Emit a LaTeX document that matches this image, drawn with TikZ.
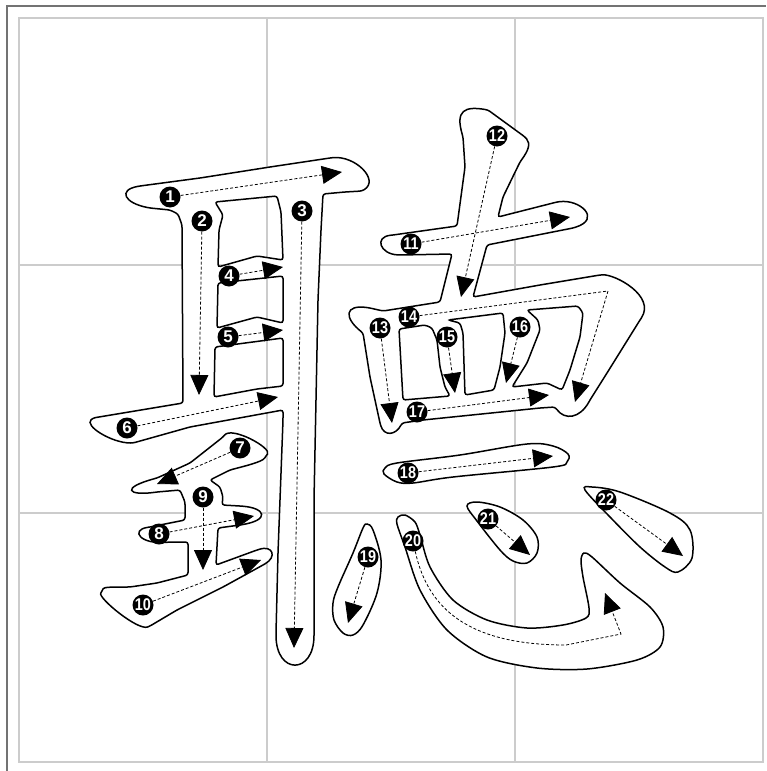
\documentclass[tikz,border=0pt]{standalone}
\usepackage{fontspec}
\newfontfamily\numfont{Liberation Sans}
\newcommand{\twodig}[1]{\scalebox{0.85}[1]{#1}}
\usetikzlibrary{arrows.meta}

\begin{document}
\begin{tikzpicture}[x=1pt, y=-1pt, >={Triangle[length=20pt,width=18pt]},
  gridline/.style={draw=black!20, line width=1.2pt},
  frameline/.style={draw=black!55, line width=2pt},
  outline/.style={draw=black, line width=1.5pt, fill=white, even odd rule, rounded corners=2.5pt},
  softline/.style={draw=black, line width=1.5pt, fill=white},
  guide/.style={->, dash pattern=on 3pt off 2pt, line width=0.8pt},
  num/.style={circle, fill=black, text=white, inner sep=0pt, minimum size=21pt,
    font=\numfont\bfseries\fontsize{17}{17}\selectfont}]
  \useasboundingbox (0,0) rectangle (766,771);

  \draw[frameline] (7,771) -- (7,6) -- (766,6);
  \draw[gridline] (19,18) rectangle (763,762);
  \draw[gridline] (267,18) -- (267,762) (515,18) -- (515,762);
  \draw[gridline] (19,265) -- (763,265) (19,513) -- (763,513);

  \path[outline] (200,178) -- (270,167) -- (330,158)
    .. controls (355,155) and (380,180) .. (362,191) -- (345,192) -- (323,194)
    -- (321,230) -- (318,300) -- (316,400) -- (314,500) -- (314,633)
    .. controls (314,675) and (276,675) .. (276,633) -- (278,553) -- (283,420) -- (283,410)
    -- (190,427) -- (133,443) .. controls (112,443) and (84,426) .. (93,418)
    -- (183,403) -- (182,225) -- (178,214) -- (170,210) -- (150,208)
    .. controls (124,203) and (118,190) .. (140,186) -- cycle
    (215,202) -- (277,196) -- (281,212) -- (283,260) -- (257,256) -- (218,267) -- (219,230) -- (223,215) -- cycle
    (218,283) -- (283,276) -- (283,323) -- (257,317) -- (217,328) -- cycle
    (215,347) -- (283,338) -- (283,386) -- (257,389) -- (214,397) -- cycle;

  \path[outline] (223,437) .. controls (232,426) and (272,448) .. (266,456)
    .. controls (262,462) and (245,466) .. (230,470) -- (210,480)
    -- (220,487) -- (223,497) -- (222,505) -- (240,506)
    .. controls (266,508) and (270,520) .. (240,525) -- (218,528)
    -- (216,565) -- (257,550) .. controls (273,545) and (277,557) .. (263,565)
    -- (223,587) -- (177,610) -- (150,626) .. controls (138,631) and (98,598) .. (102,591)
    .. controls (104,587) and (112,587) .. (130,587) -- (157,583) -- (188,575) -- (188,542)
    -- (170,542) .. controls (140,545) and (130,530) .. (150,527) -- (185,520) -- (185,502)
    -- (180,490) -- (157,492) .. controls (128,496) and (120,488) .. (157,478)
    -- (190,463) -- cycle;

  \path[outline] (463,137) .. controls (455,110) and (465,106) .. (488,110) -- (525,137)
    .. controls (531,144) and (528,151) .. (520,162) -- (503,197) -- (498,217)
    -- (557,202) .. controls (580,199) and (602,219) .. (573,228) -- (487,245)
    -- (473,297) -- (540,285) -- (600,275) .. controls (615,274) and (656,296) .. (640,320)
    -- (607,373) -- (590,400) .. controls (580,418) and (565,421) .. (555,407)
    -- (540,408) -- (423,420) -- (402,423) .. controls (396,435) and (384,437) .. (380,423)
    -- (370,377) -- (363,333) .. controls (344,318) and (344,304) .. (370,308)
    -- (383,311) -- (440,302) -- (452,254) -- (400,255)
    .. controls (380,254) and (374,237) .. (393,235) -- (457,226) -- (465,167) -- cycle
    (399,329) -- (425,325) -- (432,328) -- (437,340) -- (440,367) -- (445,387) -- (450,396) -- (403,400) -- cycle
    (448,320) -- (503,313) -- (505,333) -- (500,367) -- (494,390) -- (465,395) -- (463,333) -- (460,323) -- cycle
    (527,310) -- (578,306) -- (583,313) -- (580,337) -- (570,370) -- (562,390) -- (547,383)
    -- (512,387) -- (527,363) -- (540,330) -- (538,320) -- cycle;

  \path[softline] plot[smooth cycle, tension=0.55] coordinates {(385,468) (397,463) (460,455)
    (527,444) (553,446) (568,454) (567,462) (553,467) (453,477) (413,483) (397,482) (384,474)};
  \path[softline] plot[smooth cycle, tension=0.55] coordinates {(367,524) (373,530) (381,560)
    (377,593) (363,625) (353,635) (343,633) (334,620) (333,603) (338,587) (353,553) (363,528)};
  \path[softline] plot[smooth cycle, tension=0.5] coordinates {(398,517) (405,515) (415,522)
    (420,535) (430,567) (453,600) (487,620) (527,628) (563,625) (586,618) (589,608) (583,577)
    (581,560) (584,553) (592,557) (620,583) (650,607) (663,627) (660,647) (637,660) (587,669)
    (537,668) (487,657) (447,630) (420,590) (405,547) (397,524)};
  \path[softline] plot[smooth cycle, tension=0.55] coordinates {(467,506) (477,502) (500,507)
    (523,520) (537,537) (537,553) (527,563) (513,561) (500,550) (477,521)};
  \path[softline] plot[smooth cycle, tension=0.55] coordinates {(585,490) (592,487) (620,492)
    (670,513) (690,530) (692,558) (678,572) (665,567) (640,547) (610,517)};

  \node[num] (n1) at (170,197) {1};
  \node[num] (n2) at (202,221) {2};
  \node[num] (n3) at (302,211) {3};
  \node[num] (n4) at (229,276) {4};
  \node[num] (n5) at (228,337) {5};
  \node[num] (n6) at (127,428) {6};
  \node[num] (n7) at (240,448) {7};
  \node[num] (n8) at (159,534) {8};
  \node[num] (n9) at (203,497) {9};
  \node[num] (n10) at (143,605) {\twodig{10}};
  \node[num] (n11) at (411,244) {\twodig{11}};
  \node[num] (n12) at (497,136) {\twodig{12}};
  \node[num] (n13) at (380,328) {\twodig{13}};
  \node[num] (n14) at (409,317) {\twodig{14}};
  \node[num] (n15) at (447,337) {\twodig{15}};
  \node[num] (n16) at (520,327) {\twodig{16}};
  \node[num] (n17) at (417,412) {\twodig{17}};
  \node[num] (n18) at (408,473) {\twodig{18}};
  \node[num] (n19) at (368,557) {\twodig{19}};
  \node[num] (n20) at (413,541) {\twodig{20}};
  \node[num] (n21) at (488,519) {\twodig{21}};
  \node[num] (n22) at (606,500) {\twodig{22}};

  \coordinate (e1) at (342,172);
  \coordinate (e2) at (199,395);
  \coordinate (e3) at (294,648);
  \coordinate (e4) at (283,267);
  \coordinate (e5) at (283,330);
  \coordinate (e6) at (278,397);
  \coordinate (e7) at (157,484);
  \coordinate (e8) at (254,516);
  \coordinate (e9) at (203,570);
  \coordinate (e10) at (261,560);
  \coordinate (e11) at (570,217);
  \coordinate (e12) at (461,297);
  \coordinate (e13) at (392,423);
  \coordinate (c14) at (608,291);
  \coordinate (e14) at (575,402);
  \coordinate (e15) at (455,393);
  \coordinate (e16) at (506,383);
  \coordinate (e17) at (549,395);
  \coordinate (e18) at (553,456);
  \coordinate (e19) at (348,623);
  \coordinate (e20) at (605,593);
  \coordinate (e21) at (530,555);
  \coordinate (e22) at (683,556);

  \draw[guide] (n1) -- (e1);
  \draw[guide] (n2) -- (e2);
  \draw[guide] (n3) -- (e3);
  \draw[guide] (n4) -- (e4);
  \draw[guide] (n5) -- (e5);
  \draw[guide] (n6) -- (e6);
  \draw[guide] (n7) -- (e7);
  \draw[guide] (n8) -- (e8);
  \draw[guide] (n9) -- (e9);
  \draw[guide] (n10) -- (e10);
  \draw[guide] (n11) -- (e11);
  \draw[guide] (n12) -- (e12);
  \draw[guide] (n13) -- (e13);
  \draw[guide] (n14) -- (c14) -- (e14);
  \draw[guide] (n15) -- (e15);
  \draw[guide] (n16) -- (e16);
  \draw[guide] (n17) -- (e17);
  \draw[guide] (n18) -- (e18);
  \draw[guide] (n19) -- (e19);
  \draw[guide] (n20) .. controls (428,610) and (470,645) .. (566,645) -- (621,634) -- (e20);
  \draw[guide] (n21) -- (e21);
  \draw[guide] (n22) -- (e22);
\end{tikzpicture}
\end{document}
